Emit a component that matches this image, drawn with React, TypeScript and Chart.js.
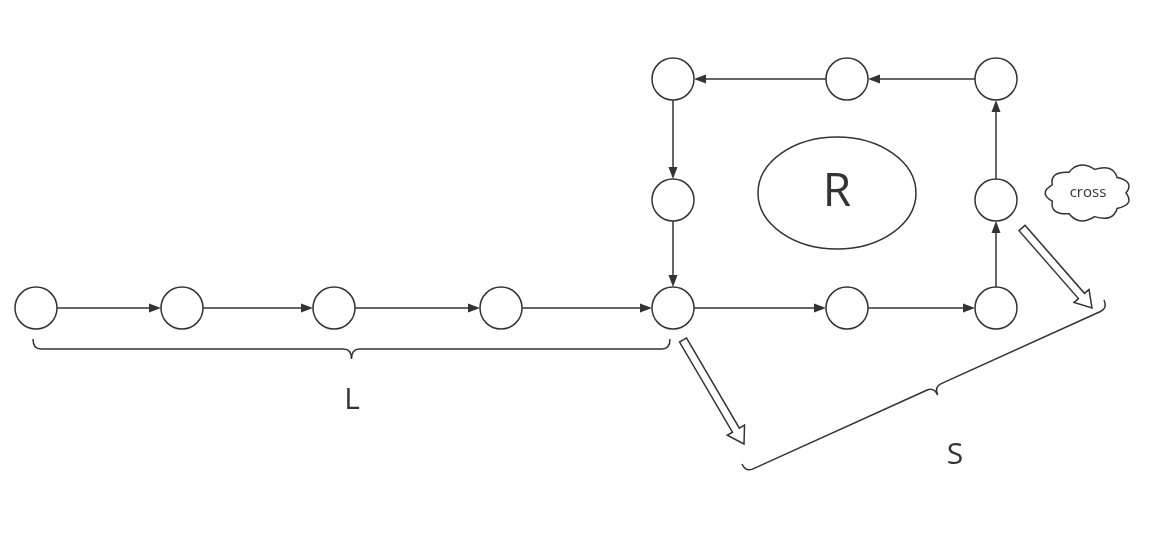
import { Chart, registerables } from "chart.js";
import { useEffect, useRef } from "react";

Chart.register(...registerables);

// node positions (pixel-like units)
const nodeX = [36, 182, 334, 501, 673, 847, 996, 996, 996, 847, 673, 673];
const nodeY = [308, 308, 308, 308, 308, 308, 308, 200, 79, 79, 79, 200];
// directed edges: from node index -> to node index
const edgeFrom = [0, 1, 2, 3, 4, 5, 6, 7, 8, 9, 10, 11];
const edgeTo = [1, 2, 3, 4, 5, 6, 7, 8, 9, 10, 11, 4];
const labels = ["L", "S", "R", "cross"];

const NODE_R = 21;
const INK = "#333333";

const diagramPlugin = {
  id: "diagram",
  beforeDatasetsDraw(chart: any) {
    const { ctx, scales } = chart;
    const px = (x: number) => scales.x.getPixelForValue(x);
    const py = (y: number) => scales.y.getPixelForValue(y);
    ctx.save();
    ctx.strokeStyle = INK;
    ctx.fillStyle = INK;
    ctx.lineWidth = 1.5;

    // edges with filled arrowheads
    edgeFrom.forEach((f, i) => {
      const t = edgeTo[i];
      const x1 = px(nodeX[f]), y1 = py(nodeY[f]);
      const x2 = px(nodeX[t]), y2 = py(nodeY[t]);
      const a = Math.atan2(y2 - y1, x2 - x1);
      const sx = x1 + Math.cos(a) * NODE_R, sy = y1 + Math.sin(a) * NODE_R;
      const ex = x2 - Math.cos(a) * NODE_R, ey = y2 - Math.sin(a) * NODE_R;
      ctx.beginPath();
      ctx.moveTo(sx, sy);
      ctx.lineTo(ex - Math.cos(a) * 10, ey - Math.sin(a) * 10);
      ctx.stroke();
      ctx.save();
      ctx.translate(ex, ey);
      ctx.rotate(a);
      ctx.beginPath();
      ctx.moveTo(0, 0);
      ctx.lineTo(-12, -4.5);
      ctx.lineTo(-12, 4.5);
      ctx.closePath();
      ctx.fill();
      ctx.restore();
    });

    // curly braces
    const brace = (x1: number, y1: number, x2: number, y2: number, h: number, tipAt: number) => {
      const ax = px(x1), ay = py(y1), bx = px(x2), by = py(y2);
      const L = Math.hypot(bx - ax, by - ay);
      const m = L * tipAt;
      const r = 8;
      ctx.save();
      ctx.translate(ax, ay);
      ctx.rotate(Math.atan2(by - ay, bx - ax));
      ctx.beginPath();
      ctx.moveTo(0, 0);
      ctx.quadraticCurveTo(0, h, r, h);
      ctx.lineTo(m - r, h);
      ctx.quadraticCurveTo(m, h, m, 2 * h);
      ctx.moveTo(m, 2 * h);
      ctx.quadraticCurveTo(m, h, m + r, h);
      ctx.lineTo(L - r, h);
      ctx.quadraticCurveTo(L, h, L, 0);
      ctx.stroke();
      ctx.restore();
    };
    brace(33, 339, 670, 339, 10, 0.5);
    brace(742, 464, 1104, 300, 9, 0.52);

    // hollow block arrows
    const hollow = (x1: number, y1: number, x2: number, y2: number) => {
      const ax = px(x1), ay = py(y1), bx = px(x2), by = py(y2);
      const L = Math.hypot(bx - ax, by - ay);
      const w = 4, hw = 10, hl = 16;
      ctx.save();
      ctx.translate(ax, ay);
      ctx.rotate(Math.atan2(by - ay, bx - ax));
      ctx.beginPath();
      ctx.moveTo(0, -w);
      ctx.lineTo(L - hl, -w);
      ctx.lineTo(L - hl, -hw);
      ctx.lineTo(L, 0);
      ctx.lineTo(L - hl, hw);
      ctx.lineTo(L - hl, w);
      ctx.lineTo(0, w);
      ctx.closePath();
      ctx.fillStyle = "#ffffff";
      ctx.fill();
      ctx.stroke();
      ctx.restore();
    };
    hollow(683, 340, 744, 444);
    hollow(1022, 228, 1092, 308);

    // R ellipse
    ctx.beginPath();
    ctx.ellipse(px(837), py(193), 79, 56, 0, 0, Math.PI * 2);
    ctx.stroke();

    // cloud
    const cx = px(1088), cy = py(193);
    const bumps = 9;
    ctx.beginPath();
    for (let i = 0; i <= bumps; i++) {
      const t0 = (i / bumps) * Math.PI * 2;
      const t1 = ((i + 1) / bumps) * Math.PI * 2;
      const p0x = cx + 38 * Math.cos(t0), p0y = cy + 24 * Math.sin(t0);
      const p1x = cx + 38 * Math.cos(t1), p1y = cy + 24 * Math.sin(t1);
      const tm = (t0 + t1) / 2;
      const qx = cx + 50 * Math.cos(tm), qy = cy + 34 * Math.sin(tm);
      if (i === 0) ctx.moveTo(p0x, p0y);
      if (i < bumps) ctx.quadraticCurveTo(qx, qy, p1x, p1y);
    }
    ctx.closePath();
    ctx.stroke();

    // texts
    ctx.textAlign = "center";
    ctx.textBaseline = "middle";
    ctx.fillStyle = INK;
    ctx.font = "30px 'Open Sans', 'DejaVu Sans', sans-serif";
    ctx.fillText(labels[0], px(352), py(400));
    ctx.fillText(labels[1], px(955), py(455));
    ctx.font = "46px 'Open Sans', 'DejaVu Sans', sans-serif";
    ctx.fillText(labels[2], px(837), py(193));
    ctx.font = "15px 'Open Sans', 'DejaVu Sans', sans-serif";
    ctx.fillText(labels[3], px(1088), py(193));
    ctx.restore();
  },
};

const App = () => {
  const chartRef = useRef<HTMLCanvasElement>(null);

  useEffect(() => {
    document.body.style.margin = "0";
    if (chartRef.current) {
      const ctx = chartRef.current.getContext("2d");
      if (ctx) {
        const chart = new Chart(ctx, {
          type: "scatter",
          data: {
            datasets: [
              {
                data: nodeX.map((x, i) => ({ x, y: nodeY[i] })),
                pointRadius: NODE_R,
                pointHoverRadius: NODE_R,
                pointBackgroundColor: "#ffffff",
                pointBorderColor: INK,
                pointBorderWidth: 1.5,
              },
            ],
          },
          options: {
            responsive: true,
            maintainAspectRatio: false,
            animation: false,
            layout: { padding: 0, autoPadding: false },
            plugins: { legend: { display: false }, tooltip: { enabled: false } },
            events: [],
            scales: {
              x: { type: "linear", min: 0, max: 1157, display: false },
              y: { type: "linear", min: 0, max: 544, reverse: true, display: false },
            },
          },
          plugins: [diagramPlugin],
        });
        return () => chart.destroy();
      }
    }
  }, []);

  return (
    <div style={{ width: 1157, height: 544, background: "#ffffff" }}>
      <canvas ref={chartRef}></canvas>
    </div>
  );
};

export default App;
